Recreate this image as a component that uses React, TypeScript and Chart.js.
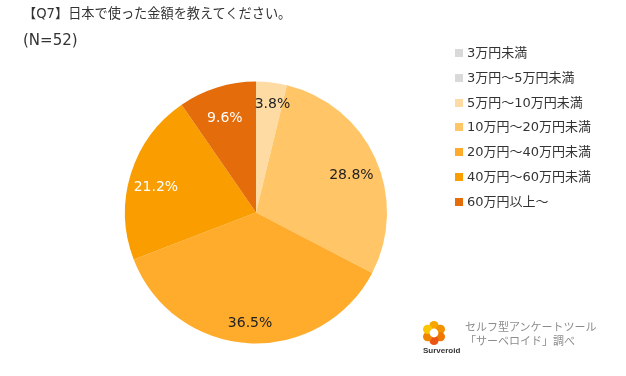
import React, { useEffect, useRef } from "react";
import { Chart, registerables } from "chart.js";

Chart.register(...registerables);

const TITLE = "【Q7】日本で使った金額を教えてください。";
const SUBTITLE = "(N=52)";
const categories = [
  "3万円未満",
  "3万円～5万円未満",
  "5万円～10万円未満",
  "10万円～20万円未満",
  "20万円～40万円未満",
  "40万円～60万円未満",
  "60万円以上～",
];
const percentages = [0, 0, 3.8, 28.8, 36.5, 21.2, 9.6];
const colors = ["#D9D9D9", "#D9D9D9", "#FDDBA3", "#FFC566", "#FFAB2B", "#F99D00", "#E46C0A"];
const labelColors = ["#222", "#222", "#222", "#222", "#222", "#FFFFFF", "#FFFFFF"];
const FONT = '"DejaVu Sans", "Noto Sans CJK JP", sans-serif';

const labelPlugin = {
  id: "sliceLabels",
  afterDatasetsDraw(chart: any) {
    const ctx = chart.ctx;
    const meta = chart.getDatasetMeta(0);
    ctx.save();
    ctx.font = `14px ${FONT}`;
    ctx.textAlign = "center";
    ctx.textBaseline = "middle";
    meta.data.forEach((arc: any, i: number) => {
      const v = percentages[i];
      if (!v) return;
      const { x, y, startAngle, endAngle, outerRadius } = arc.getProps(
        ["x", "y", "startAngle", "endAngle", "outerRadius"],
        true
      );
      const mid = (startAngle + endAngle) / 2;
      const small = v < 5;
      const r = outerRadius * (small ? 0.86 : 0.8);
      ctx.fillStyle = labelColors[i];
      ctx.fillText(
        v.toFixed(1) + "%",
        x + Math.cos(mid) * r + (small ? 3 : 0),
        y + Math.sin(mid) * r + (small ? 4 : 6)
      );
    });
    ctx.restore();
  },
};

function Logo() {
  const petals = [0, 60, 120, 180, 240, 300];
  const petalColors = ["#F7A600", "#F39200", "#EE7700", "#E95513", "#F08300", "#FBC600"];
  return (
    <svg width="24" height="24" viewBox="0 0 24 24" style={{ position: "absolute", left: 422, top: 321 }}>
      {petals.map((a, i) => {
        const rad = ((a - 90) * Math.PI) / 180;
        return (
          <circle
            key={i}
            cx={12 + Math.cos(rad) * 7.4}
            cy={12 + Math.sin(rad) * 7.4}
            r={4.6}
            fill={petalColors[i]}
          />
        );
      })}
      <circle cx={12} cy={12} r={4.4} fill="#fff" />
    </svg>
  );
}

export default function App() {
  const ref = useRef<HTMLCanvasElement>(null);
  useEffect(() => {
    if (!ref.current) return;
    const chart = new Chart(ref.current, {
      type: "pie",
      data: {
        labels: categories,
        datasets: [
          {
            data: percentages,
            backgroundColor: colors,
            borderWidth: 0,
          },
        ],
      },
      options: {
        animation: false,
        responsive: false,
        maintainAspectRatio: false,
        layout: { padding: { top: 81.5, bottom: 32.5, left: 125, right: 239 } },
        plugins: { legend: { display: false }, tooltip: { enabled: false }, title: { display: false } },
      },
      plugins: [labelPlugin],
    });
    return () => chart.destroy();
  }, []);

  return (
    <div style={{ position: "fixed", left: 0, top: 0, width: 626, height: 376, background: "#fff", fontFamily: FONT, overflow: "hidden" }}>
      <canvas ref={ref} width={626} height={376} style={{ position: "absolute", left: 0, top: 0, width: 626, height: 376 }} />
      <div style={{ position: "absolute", left: 23, top: 4, fontSize: 13.2, color: "#333", lineHeight: "20px", whiteSpace: "nowrap" }}>{TITLE}</div>
      <div style={{ position: "absolute", left: 23, top: 30, fontSize: 15, color: "#333", lineHeight: "20px" }}>{SUBTITLE}</div>
      {categories.map((c, i) => (
        <div key={c} style={{ position: "absolute", left: 455, top: 53 + i * 24.8 - 10, height: 20, display: "flex", alignItems: "center", whiteSpace: "nowrap" }}>
          <span style={{ display: "inline-block", width: 8, height: 8, background: colors[i], marginRight: 4 }} />
          <span style={{ fontSize: 13, color: "#333", lineHeight: "20px" }}>{c}</span>
        </div>
      ))}
      <Logo />
      <div style={{ position: "absolute", left: 423, top: 346, fontSize: 8, fontWeight: 700, color: "#333", fontFamily: '"Liberation Sans", sans-serif' }}>Surveroid</div>
      <div style={{ position: "absolute", left: 465, top: 321, fontSize: 11, color: "#8c8c8c", lineHeight: "14px", whiteSpace: "nowrap" }}>
        セルフ型アンケートツール
        <br />
        「サーベロイド」調べ
      </div>
    </div>
  );
}
